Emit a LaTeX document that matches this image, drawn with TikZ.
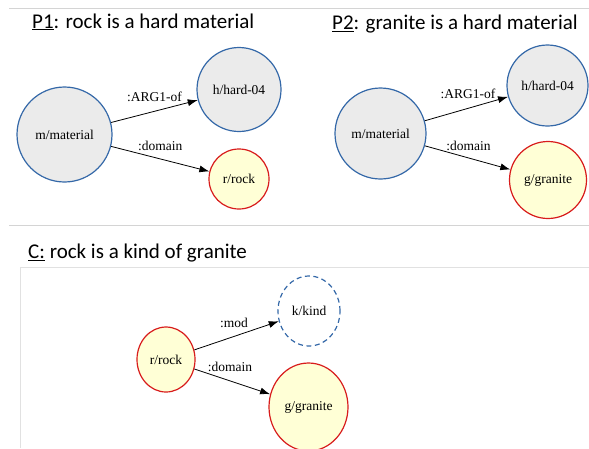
\documentclass[tikz,border=0pt]{standalone}
\usepackage{fontspec}
\setmainfont{Liberation Serif}
\newfontfamily\titlefont{Carlito}
\usepackage{xcolor}
\usetikzlibrary{arrows.meta, shapes.geometric}

\definecolor{amrblue}{HTML}{3468A8}
\definecolor{amrgray}{HTML}{EBEBEB}
\definecolor{amrred}{HTML}{D81C1C}
\definecolor{amryellow}{HTML}{FFFFD6}
\definecolor{rulegray}{HTML}{D4D4D4}

\begin{document}
\begin{tikzpicture}[
    x=1pt, y=-1pt,
    concept/.style={ellipse, draw=amrblue, fill=amrgray, line width=1.2pt, inner sep=0pt, font=\fontsize{13.5}{15}\selectfont},
    entity/.style={ellipse, draw=amrred, fill=amryellow, line width=1.2pt, inner sep=0pt, font=\fontsize{13.5}{15}\selectfont},
    guess/.style={ellipse, draw=amrblue, dash pattern=on 5pt off 3.5pt, line width=1.2pt, inner sep=0pt, font=\fontsize{13.5}{15}\selectfont},
    role/.style={-{Latex[length=10pt,width=7pt]}, line width=0.8pt},
    rolelabel/.style={font=\fontsize{13.5}{15}\selectfont, inner sep=1pt},
    heading/.style={font=\titlefont\fontsize{21}{24}\selectfont, anchor=west, inner sep=0pt}
    ]
    \useasboundingbox (0,0) rectangle (589,448);

    % Rules and frame
    \draw[rulegray, line width=0.8pt] (9,8) -- (589,8);
    \draw[rulegray, line width=0.8pt] (9,225.5) -- (589,225.5);
    \draw[rulegray!70, line width=0.8pt] (20,448) -- (20,267) -- (589,267);

    % Headings
    \node[heading] (t1) at (32,22) {\underline{P1}: rock is a hard material};
    \node[heading] (t2) at (332,24) {\underline{P2}: granite is a hard material};
    \node[heading] (t3) at (28,253) {\underline{C:} rock is a kind of granite};

    % P1
    \node[concept, minimum width=95pt, minimum height=95pt] (m1) at (64.5,134.5) {m/material};
    \node[concept, minimum width=84pt, minimum height=84pt] (h1) at (239,89.5) {h/hard-04};
    \node[entity, minimum width=60pt, minimum height=60pt] (r1) at (239,179) {r/rock};
    \draw[role] (m1) -- node[rolelabel, pos=0.5, above=8pt] {:ARG1-of} (h1);
    \draw[role] (m1) -- node[rolelabel, pos=0.5, above=7pt] {:domain} (r1);

    % P2
    \node[concept, minimum width=91pt, minimum height=91pt] (m2) at (380.5,133.5) {m/material};
    \node[concept, minimum width=81pt, minimum height=81pt] (h2) at (547.5,85.5) {h/hard-04};
    \node[entity, minimum width=77pt, minimum height=77pt] (g2) at (548,180) {g/granite};
    \draw[role] (m2) -- node[rolelabel, pos=0.52, above=8pt] {:ARG1-of} (h2);
    \draw[role] (m2) -- node[rolelabel, pos=0.51, above=6pt] {:domain} (g2);

    % C
    \node[entity, minimum width=58pt, minimum height=65pt] (r3) at (166,359.5) {r/rock};
    \node[guess, minimum width=62pt, minimum height=70pt] (k3) at (309,311) {k/kind};
    \node[entity, minimum width=79pt, minimum height=88pt] (g3) at (308.5,407) {g/granite};
    \draw[role] (r3) -- node[rolelabel, pos=0.47, above=7pt] {:mod} (k3);
    \draw[role] (r3) -- node[rolelabel, pos=0.47, above=8pt] {:domain} (g3);
\end{tikzpicture}
\end{document}
